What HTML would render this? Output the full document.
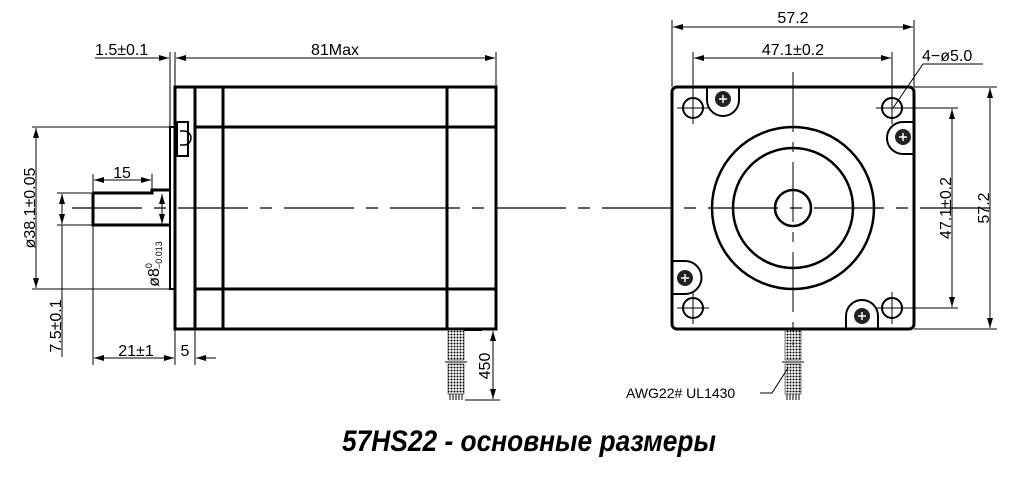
<!DOCTYPE html>
<html><head><meta charset="utf-8"><style>html,body{margin:0;padding:0;background:#fff}svg{display:block}</style></head><body>
<svg width="1014" height="477" viewBox="0 0 1014 477" xmlns="http://www.w3.org/2000/svg" font-family="Liberation Sans, DejaVu Sans, sans-serif">
<defs>
<marker id="a" viewBox="0 0 10 6" refX="10" refY="3" markerWidth="10" markerHeight="6" orient="auto-start-reverse" markerUnits="userSpaceOnUse"><path d="M0,0 L10,3 L0,6 Z" fill="#000"/></marker>
<pattern id="br" width="3" height="3" patternUnits="userSpaceOnUse"><rect width="3" height="3" fill="#fff"/><circle cx="1.5" cy="1.5" r="1" fill="#000"/></pattern>
</defs>
<g stroke="#000" fill="none">
<g stroke-width="3">
<rect x="175" y="87" width="321" height="242"/>
<line x1="195" y1="87" x2="195" y2="329"/>
<line x1="223" y1="87" x2="223" y2="329"/>
<line x1="447" y1="87" x2="447" y2="329"/>
<line x1="195" y1="127" x2="496" y2="127"/>
<line x1="195" y1="289" x2="496" y2="289"/>
<rect x="170" y="127" width="5" height="162" stroke-width="2"/>
<rect x="177" y="122" width="11" height="34" stroke-width="2"/>
<path d="M93,193 H152 V190 H170 M93,193 V225 H170" />
</g>
<path d="M180,131 h4 a4,4 0 0 1 0,14 h-4" stroke-width="1.5"/>
<path d="M72,208 H1000" stroke-width="1.2" stroke-dasharray="70,12,12,12"/>
<g stroke-width="1">
<line x1="170" y1="52" x2="170" y2="127"/><line x1="175" y1="52" x2="175" y2="87"/><line x1="496" y1="52" x2="496" y2="87"/>
<line x1="176" y1="58" x2="495" y2="58" marker-start="url(#a)" marker-end="url(#a)"/>
<line x1="95" y1="58" x2="169" y2="58" marker-end="url(#a)"/>
<line x1="32" y1="127" x2="170" y2="127"/><line x1="32" y1="289" x2="170" y2="289"/>
<line x1="36" y1="128" x2="36" y2="288" marker-start="url(#a)" marker-end="url(#a)"/>
<line x1="57" y1="193" x2="93" y2="193"/><line x1="57" y1="225" x2="93" y2="225"/>
<line x1="62" y1="194" x2="62" y2="224" marker-start="url(#a)" marker-end="url(#a)"/>
<line x1="62" y1="225" x2="62" y2="357"/>
<line x1="93" y1="174" x2="93" y2="365"/><line x1="152" y1="174" x2="152" y2="190"/>
<line x1="94" y1="180" x2="151" y2="180" marker-start="url(#a)" marker-end="url(#a)"/>
<line x1="162" y1="194" x2="162" y2="224" marker-start="url(#a)" marker-end="url(#a)"/>
<line x1="175" y1="329" x2="175" y2="365"/><line x1="195" y1="329" x2="195" y2="365"/>
<line x1="94" y1="358" x2="174" y2="358" marker-start="url(#a)" marker-end="url(#a)"/>
<line x1="196" y1="358" x2="216" y2="358" marker-start="url(#a)"/>
<line x1="465" y1="400" x2="500" y2="400"/>
<line x1="493" y1="331" x2="493" y2="399" marker-start="url(#a)" marker-end="url(#a)"/>
</g>
<rect x="448" y="330" width="16" height="30" fill="url(#br)" stroke-width="0.5"/>
<rect x="448" y="364" width="16" height="30" fill="url(#br)" stroke-width="0.5"/>
<line x1="445" y1="362" x2="467" y2="362" stroke-width="1"/>
<path d="M450,394v6M453,394v6M456,394v6M459,394v6M462,394v6" stroke-width="1"/>
<line x1="464" y1="330" x2="482" y2="330" stroke-width="2"/>
<rect x="785" y="330" width="16" height="30" fill="url(#br)" stroke-width="0.5"/>
<rect x="785" y="364" width="16" height="30" fill="url(#br)" stroke-width="0.5"/>
<line x1="782" y1="362" x2="804" y2="362" stroke-width="1"/>
<path d="M787,394v6M790,394v6M793,394v6M796,394v6M799,394v6" stroke-width="1"/>

<rect x="672" y="87" width="242" height="242" rx="5" stroke-width="3"/>
<circle cx="793" cy="208" r="81" stroke-width="2.5"/>
<circle cx="793" cy="208" r="60" stroke-width="2.5"/>
<circle cx="793" cy="208" r="18" stroke-width="2.5"/>
<g stroke-width="2">
<circle cx="693" cy="108" r="10"/><circle cx="892" cy="108" r="10"/>
<circle cx="693" cy="308" r="10"/><circle cx="892" cy="308" r="10"/>
<path d="M707,88 V100 a16,16 0 0 0 32,0 V88"/>
<path d="M913,122 H903 a15,15 0 0 0 0,32 H913"/>
<path d="M673,261 H685 a16,16 0 0 1 0,33 H673"/>
<path d="M846,328 V316 a16,16 0 0 1 32,0 V328"/>
</g>
<g fill="#222" stroke="none">
<circle cx="723" cy="99" r="8"/><circle cx="903" cy="137" r="8"/><circle cx="685" cy="278" r="8"/><circle cx="862" cy="316" r="8"/>
</g>
<g stroke="#fff" stroke-width="1.5">
<path d="M719,99h8M723,95v8M899,137h8M903,133v8M681,278h8M685,274v8M858,316h8M862,312v8"/>
</g>
<g stroke-width="1">
<line x1="793" y1="72" x2="793" y2="345" stroke-dasharray="60,10,10,10"/>
<path d="M677,108h32M677,308h32M876,108h30M876,308h30M693,92v32M693,292v32M892,92v32M892,292v32"/>
<line x1="672" y1="20" x2="672" y2="87"/><line x1="914" y1="20" x2="914" y2="87"/>
<line x1="673" y1="27" x2="913" y2="27" marker-start="url(#a)" marker-end="url(#a)"/>
<line x1="693" y1="52" x2="693" y2="98"/><line x1="892" y1="52" x2="892" y2="98"/>
<line x1="694" y1="58" x2="891" y2="58" marker-start="url(#a)" marker-end="url(#a)"/>
<line x1="914" y1="87" x2="997" y2="87"/><line x1="914" y1="329" x2="997" y2="329"/>
<line x1="990" y1="88" x2="990" y2="328" marker-start="url(#a)" marker-end="url(#a)"/>
<line x1="900" y1="108" x2="958" y2="108"/><line x1="900" y1="308" x2="958" y2="308"/>
<line x1="952" y1="109" x2="952" y2="307" marker-start="url(#a)" marker-end="url(#a)"/>
<polyline points="893,108 923,64 983,64"/>
<polyline points="760,393 772,393 788,368"/>
</g>
</g>
<g fill="#000" font-size="16">
<text x="335" y="55" text-anchor="middle">81Max</text>
<text x="95" y="55">1.5±0.1</text>
<text x="122" y="178" text-anchor="middle">15</text>
<text x="136" y="356" text-anchor="middle">21±1</text>
<text x="185" y="356" text-anchor="middle">5</text>
<text transform="translate(35,208) rotate(-90)" text-anchor="middle">ø38.1±0.05</text>
<text transform="translate(61,326) rotate(-90)" text-anchor="middle">7.5±0.1</text>
<text transform="translate(159,264) rotate(-90)" text-anchor="middle">ø8<tspan font-size="9" dy="-7">0</tspan><tspan font-size="9" dx="-6" dy="10">−0.013</tspan></text>
<text transform="translate(490,366) rotate(-90)" text-anchor="middle">450</text>
<text x="793" y="23" text-anchor="middle">57.2</text>
<text x="793" y="55" text-anchor="middle">47.1±0.2</text>
<text x="922" y="61">4−ø5.0</text>
<text transform="translate(951,208) rotate(-90)" text-anchor="middle">47.1±0.2</text>
<text transform="translate(989,208) rotate(-90)" text-anchor="middle">57.2</text>
<text x="626" y="398" font-size="14">AWG22# UL1430</text>
<text x="342" y="451" font-size="30" font-weight="bold" font-style="italic" textLength="374" lengthAdjust="spacingAndGlyphs">57HS22 - основные размеры</text>
</g>
</svg>
</body></html>
